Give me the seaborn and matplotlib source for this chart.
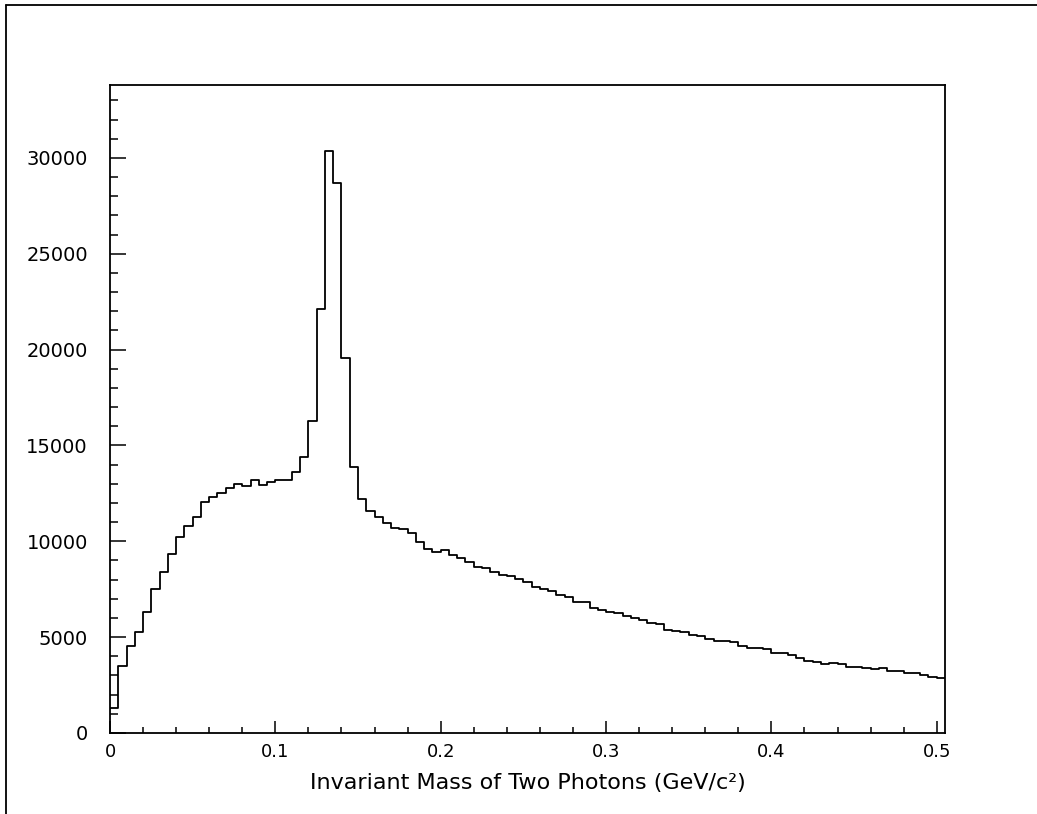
import numpy as np
import pandas as pd
import matplotlib
matplotlib.use("Agg")
import matplotlib.pyplot as plt
import seaborn as sns
from matplotlib.ticker import MultipleLocator

# two-photon invariant mass histogram, 101 bins of 5 MeV
bin_width = 0.005
counts = [1290, 3510, 4540, 5290, 6330, 7510, 8380, 9340, 10240, 10810,
          11250, 12050, 12310, 12500, 12760, 13010, 12880, 13210, 12950, 13080,
          13200, 13200, 13600, 14380, 16260, 22100, 30380, 28680, 19550, 13860,
          12190, 11580, 11270, 10940, 10690, 10650, 10420, 9950, 9620, 9430,
          9550, 9300, 9150, 8920, 8640, 8610, 8380, 8230, 8170, 8020,
          7880, 7620, 7510, 7410, 7200, 7080, 6830, 6820, 6520, 6420,
          6310, 6240, 6100, 6000, 5880, 5720, 5690, 5370, 5340, 5250,
          5110, 5080, 4920, 4820, 4780, 4750, 4540, 4450, 4420, 4380,
          4190, 4160, 4050, 3910, 3760, 3700, 3600, 3640, 3580, 3460,
          3430, 3370, 3350, 3370, 3250, 3220, 3150, 3150, 3030, 2940,
          2890]
x_ticks = [0, 0.1, 0.2, 0.3, 0.4, 0.5]
x_ticklabels = ["0", "0.1", "0.2", "0.3", "0.4", "0.5"]
y_ticks = [0, 5000, 10000, 15000, 20000, 25000, 30000]

edges = [i * bin_width for i in range(len(counts) + 1)]
df = pd.DataFrame({"mass": [e + bin_width / 2 for e in edges[:-1]], "n": counts})

sns.set_style("white")
plt.rcParams["font.family"] = ["DejaVu Sans"]
plt.rcParams["text.color"] = "black"
plt.rcParams["axes.labelcolor"] = "black"
plt.rcParams["xtick.color"] = "black"
plt.rcParams["ytick.color"] = "black"

fig = plt.figure(figsize=(10.37, 8.14), dpi=100)
ax = fig.add_axes([110 / 1037, 81 / 814, 835 / 1037, 648 / 814])

sns.histplot(data=df, x="mass", weights="n", bins=edges, element="step",
             fill=False, color="black", linewidth=1.3, ax=ax)

ax.set_xlim(0, edges[-1])
ax.set_xticks(x_ticks)
ax.set_xticklabels(x_ticklabels)
ax.set_yticks(y_ticks)
ax.set_yticklabels([str(v) for v in y_ticks])
ax.xaxis.set_minor_locator(MultipleLocator(0.02))
ax.yaxis.set_minor_locator(MultipleLocator(1000))
ax.set_ylim(0, 33800)

ax.tick_params(axis="both", which="both", direction="in", color="black",
               labelcolor="black", width=1.1, top=False, right=False,
               bottom=True, left=True)
ax.tick_params(axis="x", which="major", length=8.6, labelsize=13, pad=7)
ax.tick_params(axis="x", which="minor", length=4.3)
ax.tick_params(axis="y", which="major", length=11.5, labelsize=14, pad=16)
ax.tick_params(axis="y", which="minor", length=5.8)
for s in ax.spines.values():
    s.set_color("black")
    s.set_linewidth(1.3)

ax.set_xlabel("Invariant Mass of Two Photons (GeV/c²)", fontsize=16,
              labelpad=9, color="black")
ax.set_ylabel("")

# outer frame, only top and left edges visible
fig.add_artist(plt.Line2D([6 / 1037, 1], [1 - 5 / 814, 1 - 5 / 814],
                          color="black", linewidth=1.3))
fig.add_artist(plt.Line2D([6 / 1037, 6 / 1037], [0, 1 - 5 / 814],
                          color="black", linewidth=1.3))

fig.savefig("out.png", dpi=100)
